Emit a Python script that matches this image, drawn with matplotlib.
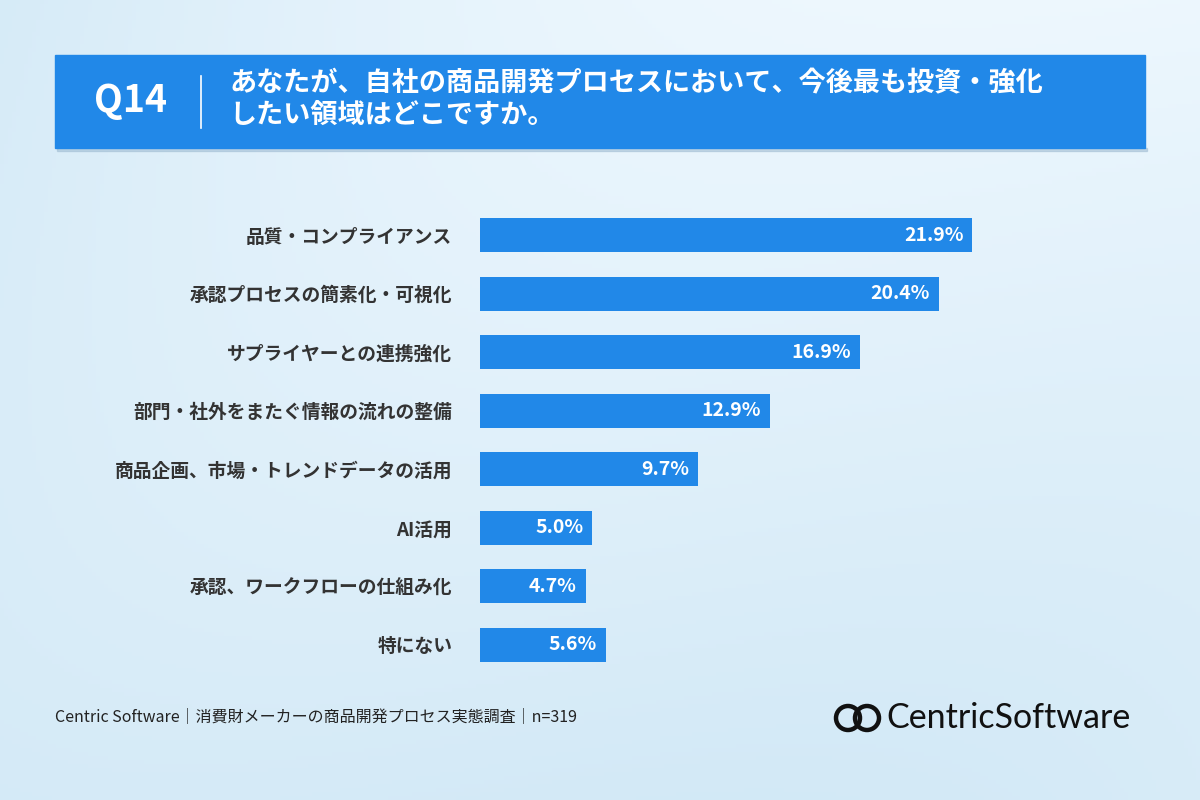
import matplotlib
matplotlib.use("Agg")
import matplotlib.pyplot as plt
import numpy as np
from matplotlib.patches import Rectangle, Circle

plt.rcParams['font.family'] = ['Noto Sans CJK JP', 'DejaVu Sans']

categories = ["品質・コンプライアンス", "承認プロセスの簡素化・可視化", "サプライヤーとの連携強化",
              "部門・社外をまたぐ情報の流れの整備", "商品企画、市場・トレンドデータの活用",
              "AI活用", "承認、ワークフローの仕組み化", "特にない"]
values = [21.9, 20.4, 16.9, 12.9, 9.7, 5.0, 4.7, 5.6]
title = "あなたが、自社の商品開発プロセスにおいて、今後最も投資・強化\nしたい領域はどこですか。"
footer = "Centric Software｜消費財メーカーの商品開発プロセス実態調査｜n=319"

W, H = 1200, 800
fig = plt.figure(figsize=(12, 8), dpi=100)

bg = fig.add_axes([0, 0, 1, 1])
yy, xx = np.mgrid[0:1:200j, 0:1:300j]
t = np.clip(0.55 * xx + 0.45 * (1 - yy) * 0.6 + 0.25 * np.sin(3 * xx + 2 * yy), 0, 1)
c1 = np.array([0.80, 0.90, 0.96]); c2 = np.array([0.95, 0.98, 1.0])
img = c1[None, None, :] * (1 - t[..., None]) + c2[None, None, :] * t[..., None]
bg.imshow(img, extent=[0, W, H, 0], aspect='auto')
bg.set_xlim(0, W); bg.set_ylim(H, 0); bg.axis('off')

blue = '#2188e8'
bg.add_patch(Rectangle((55, 55), 1090, 93, color=blue, zorder=2))
bg.add_patch(Rectangle((57, 148), 1090, 3, color='#9ab8d0', alpha=0.5, zorder=1))
bg.text(130, 101, "Q14", color='white', fontsize=27, fontweight='bold', ha='center', va='center', zorder=3)
bg.plot([201, 201], [76, 128], color='white', lw=1.2, zorder=3)
bg.text(229, 99, title, color='white', fontsize=19.5, fontweight='bold', ha='left', va='center',
        linespacing=1.15, zorder=3)
bg.text(55, 717, footer, fontsize=11.5, color='#222222', ha='left', va='center')
bg.add_patch(Circle((848, 718), 12, fill=False, lw=3.2, color='#111111'))
bg.add_patch(Circle((867, 718), 12, fill=False, lw=3.2, color='#111111'))
bg.text(886, 718, "CentricSoftware", fontsize=24.5, color='#111111', ha='left', va='center',
        family=['Lato', 'DejaVu Sans'])

ax = fig.add_axes([480 / W, 1 - 674 / H, 562 / W, 468 / H])
ax.patch.set_alpha(0)
y = np.arange(len(categories))
ax.barh(y, values, height=0.58, color=blue)
ax.set_xlim(0, 25)
ax.set_ylim(len(categories) - 0.5, -0.5)
for yi, v in zip(y, values):
    ax.text(v - 0.4, yi, f"{v:.1f}%", color='white', fontsize=14, fontweight='bold',
            ha='right', va='center')
ax.set_yticks(y)
ax.set_yticklabels(categories, fontsize=13.5, fontweight='bold', color='#333333')
ax.tick_params(axis='y', length=0, pad=22)
for lbl in ax.get_yticklabels():
    lbl.set_x(-0.0)
ax.tick_params(axis='y', pad=20)
ax.set_xticks([])
for s in ax.spines.values():
    s.set_visible(False)

fig.savefig("out.png", dpi=100)
